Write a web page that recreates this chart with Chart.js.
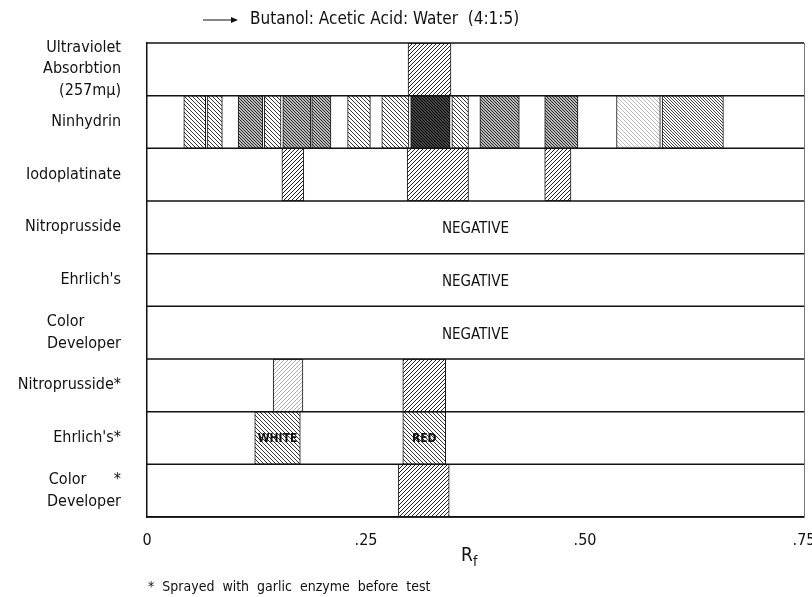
<!DOCTYPE html>
<html>
<head>
<meta charset="utf-8">
<script src="https://cdn.jsdelivr.net/npm/chart.js@4"></script>
<style>
  html, body { margin: 0; padding: 0; background: #fff; }
  #wrap { width: 812px; height: 597px; }
</style>
</head>
<body>
<div id="wrap"><canvas id="myChart" width="812" height="597"></canvas></div>
<script>
var FONT = '"Liberation Sans Narrow", "DejaVu Sans Condensed", "Liberation Sans", sans-serif';

// rows of the chromatogram, top to bottom
var rowLabels = [
    ["Ultraviolet", "Absorbtion", "(257m\u03bc)"],
    "Ninhydrin",
    "Iodoplatinate",
    "Nitroprusside",
    "Ehrlich's",
    ["Color\u00a0\u00a0\u00a0\u00a0\u00a0\u00a0\u00a0\u00a0", "Developer"],
    "Nitroprusside*",
    "Ehrlich's*",
    ["Color\u00a0\u00a0\u00a0\u00a0\u00a0\u00a0*", "Developer"]
];

// Rf ranges of the spots found in each row
var uvSpots = [[0.298, 0.347]];
var ninhydrinSpots = [
    [0.042, 0.067], [0.069, 0.086], [0.104, 0.132], [0.134, 0.153],
    [0.155, 0.187], [0.188, 0.210], [0.229, 0.255], [0.268, 0.299],
    [0.301, 0.346], [0.348, 0.367], [0.380, 0.425], [0.454, 0.492],
    [0.536, 0.586], [0.588, 0.658]
];
// stain intensity of the ninhydrin spots (0 faint .. 4 heavy)
var ninhydrinIntensity = [1, 1, 3, 1, 3, 3, 1, 1, 4, 1, 3, 3, 0, 2];
var iodoplatinateSpots = [[0.154, 0.179], [0.297, 0.367], [0.454, 0.484]];
var nitroprussideSpots = [];
var ehrlichSpots = [];
var colorDevSpots = [];
var nitroprussideGarlicSpots = [[0.144, 0.178], [0.292, 0.341]];
var ehrlichGarlicSpots = [[0.123, 0.175], [0.292, 0.341]];
var ehrlichGarlicColors = ["WHITE", "RED"];
var colorDevGarlicSpots = [[0.287, 0.345]];
var negativeRows = [3, 4, 5];

var xTicks = [0, 0.25, 0.50, 0.75];
var xTickLabels = ["0", ".25", ".50", ".75"];

var ctx = document.getElementById("myChart").getContext("2d");

function hatch(dir, gap, lw, color) {
    var c = document.createElement("canvas");
    c.width = gap; c.height = gap;
    var g = c.getContext("2d");
    g.fillStyle = "#fff";
    g.fillRect(0, 0, gap, gap);
    g.strokeStyle = color;
    g.lineWidth = lw;
    g.beginPath();
    if (dir === "/") {
        g.moveTo(-1, gap + 1); g.lineTo(gap + 1, -1);
        g.moveTo(-1, 1); g.lineTo(1, -1);
        g.moveTo(gap - 1, gap + 1); g.lineTo(gap + 1, gap - 1);
    } else {
        g.moveTo(-1, -1); g.lineTo(gap + 1, gap + 1);
        g.moveTo(gap - 1, -1); g.lineTo(gap + 1, 1);
        g.moveTo(-1, gap - 1); g.lineTo(1, gap + 1);
    }
    g.stroke();
    return ctx.createPattern(c, "repeat");
}

var fwd = hatch("/", 4, 1, "#222");
var fwdLight = hatch("/", 4, 0.8, "#999");
var back = [
    hatch("\\", 4, 0.8, "#aaa"),
    hatch("\\", 4, 1, "#333"),
    hatch("\\", 3, 1, "#444"),
    hatch("\\", 3, 1.2, "#222"),
    hatch("\\", 3, 1.7, "#000")
];

var datasets = [];
function addSpots(row, spots, fills) {
    spots.forEach(function (s, i) {
        var d = rowLabels.map(function () { return null; });
        d[row] = s;
        datasets.push({
            data: d,
            backgroundColor: Array.isArray(fills) ? fills[i] : fills,
            borderColor: "#111",
            borderWidth: 1,
            borderSkipped: false
        });
    });
}
addSpots(0, uvSpots, fwd);
addSpots(1, ninhydrinSpots, ninhydrinIntensity.map(function (v) { return back[v]; }));
addSpots(2, iodoplatinateSpots, fwd);
addSpots(3, nitroprussideSpots, fwd);
addSpots(4, ehrlichSpots, fwd);
addSpots(5, colorDevSpots, fwd);
addSpots(6, nitroprussideGarlicSpots, [fwdLight, fwd]);
addSpots(7, ehrlichGarlicSpots, back[1]);
addSpots(8, colorDevGarlicSpots, fwd);

var extras = {
    id: "extras",
    afterDatasetsDraw: function (chart) {
        var c = chart.ctx, a = chart.chartArea;
        var xs = chart.scales.x, ys = chart.scales.y;
        c.save();
        // row separators and right edge
        c.strokeStyle = "#111";
        c.lineWidth = 1.5;
        for (var i = 0; i <= rowLabels.length; i++) {
            var yy = a.top + (a.bottom - a.top) * i / rowLabels.length;
            c.beginPath(); c.moveTo(a.left, yy); c.lineTo(a.right, yy); c.stroke();
        }
        c.strokeStyle = "#777";
        c.lineWidth = 1;
        c.beginPath();
        c.moveTo(a.right + 0.5, a.top);
        c.lineTo(a.right + 0.5, a.bottom);
        c.stroke();

        c.fillStyle = "#111";
        c.textBaseline = "middle";
        c.textAlign = "center";
        c.font = "15px " + FONT;
        negativeRows.forEach(function (r) {
            c.fillText("NEGATIVE", (a.left + a.right) / 2, ys.getPixelForValue(r) + 2);
        });

        c.font = "bold 12px " + FONT;
        ehrlichGarlicSpots.forEach(function (s, i) {
            var cx = xs.getPixelForValue((s[0] + s[1]) / 2);
            var cy = ys.getPixelForValue(7) + 1;
            c.fillText(ehrlichGarlicColors[i], cx, cy);
        });

        // title with arrow
        c.strokeStyle = "#111";
        c.lineWidth = 1.2;
        c.beginPath();
        c.moveTo(203, 20); c.lineTo(236, 20);
        c.stroke();
        c.beginPath();
        c.moveTo(238, 20); c.lineTo(231, 17); c.lineTo(231, 23); c.closePath();
        c.fill();
        c.textAlign = "left";
        c.font = "17px " + FONT;
        c.fillText("Butanol: Acetic Acid: Water  (4:1:5)", 250, 20);

        // axis title R with subscript f
        c.font = "19px " + FONT;
        c.fillText("R", 461, 556);
        c.font = "14px " + FONT;
        c.fillText("f", 473, 562);

        // footnote
        c.font = "14px " + FONT;
        c.fillText("*  Sprayed  with  garlic  enzyme  before  test", 148, 587);
        c.restore();
    }
};

var chart = new Chart(ctx, {
    type: "bar",
    data: { labels: rowLabels, datasets: datasets },
    options: {
        indexAxis: "y",
        responsive: false,
        animation: false,
        events: [],
        layout: { padding: { top: 43, right: 0, bottom: 0, left: 0 } },
        datasets: { bar: { grouped: false, categoryPercentage: 1, barPercentage: 1 } },
        plugins: { legend: { display: false }, tooltip: { enabled: false }, title: { display: false } },
        scales: {
            x: {
                type: "linear",
                min: 0, max: 0.75,
                afterBuildTicks: function (s) { s.ticks = xTicks.map(function (v) { return { value: v }; }); },
                afterFit: function (s) { s.height = 80; s.paddingRight = 8; },
                grid: { display: false },
                border: { display: true, color: "#111", width: 1.5 },
                ticks: {
                    padding: 6,
                    color: "#111",
                    font: { family: FONT, size: 16 },
                    callback: function (v) { var i = xTicks.indexOf(v); return i >= 0 ? xTickLabels[i] : ""; }
                }
            },
            y: {
                type: "category",
                offset: true,
                afterFit: function (s) { s.width = 147; },
                grid: { display: false },
                border: { display: true, color: "#111", width: 1.5 },
                ticks: {
                    autoSkip: false,
                    padding: 18,
                    color: "#111",
                    font: { family: FONT, size: 16, lineHeight: 1.35 }
                }
            }
        }
    },
    plugins: [extras]
});
</script>
</body>
</html>
